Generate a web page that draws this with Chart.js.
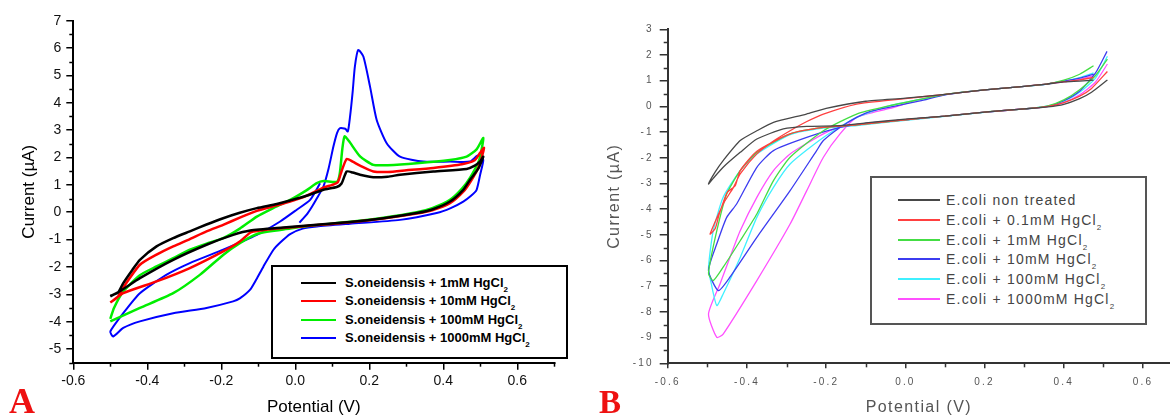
<!DOCTYPE html>
<html>
<head>
<meta charset="utf-8">
<script src="https://cdn.jsdelivr.net/npm/chart.js@4/dist/chart.umd.min.js"></script>
<style>
body { margin: 0; width: 1170px; height: 416px; background: #fff; position: relative; overflow: hidden; font-family: 'Liberation Sans', Arial, sans-serif; }
canvas { position: absolute; top: 0; }
#chartA { left: 0; }
#chartB { left: 585px; }
.legend { position: absolute; box-sizing: border-box; background: #fff; }
.legend .row { position: absolute; left: 0; height: 0; }
.legend .sw { position: absolute; height: 2px; top: -1px; }
.legend .tx { position: absolute; white-space: nowrap; line-height: 16px; top: -8px; }
.legend sub { font-size: 8px; vertical-align: -5px; line-height: 0; }
#legendA { left: 271px; top: 265px; width: 297px; height: 94px; border: 2px solid #000; }
#legendA .sw { left: 28px; width: 35px; }
#legendA .tx { left: 72px; font-weight: bold; font-size: 13px; color: #000; }
#legendB { left: 870px; top: 176px; width: 277px; height: 149px; border: 2px solid #555; }
#legendB .sw { left: 26px; width: 42px; }
#legendB .tx { left: 74px; font-size: 14px; letter-spacing: 1.2px; color: #444; }
.panel { position: absolute; font-family: 'Liberation Serif', 'Times New Roman', serif; font-weight: bold; color: #ee1111; line-height: 1; }
#tagA { left: 9px; top: 383px; font-size: 36px; }
#tagB { left: 599px; top: 386px; font-size: 33px; }
</style>
</head>
<body>
<canvas id="chartA" width="585" height="416"></canvas>
<canvas id="chartB" width="585" height="416"></canvas>
<div class="legend" id="legendA"></div>
<div class="legend" id="legendB"></div>
<div class="panel" id="tagA">A</div>
<div class="panel" id="tagB">B</div>
<script>
// ---------- Panel A : S.oneidensis ----------
const aLabels = ['S.oneidensis + 1mM HgCl2', 'S.oneidensis + 10mM HgCl2', 'S.oneidensis + 100mM HgCl2', 'S.oneidensis + 1000mM HgCl2'];
const aColors = ['#000000', '#ff0000', '#00ee00', '#0000ff'];
const aXTicks = [-0.6, -0.4, -0.2, 0, 0.2, 0.4, 0.6];
const aXTickLabels = ['-0.6', '-0.4', '-0.2', '0.0', '0.2', '0.4', '0.6'];
const aYTicks = [-5, -4, -3, -2, -1, 0, 1, 2, 3, 4, 5, 6, 7];
const aYTickLabels = ['-5', '-4', '-3', '-2', '-1', '0', '1', '2', '3', '4', '5', '6', '7'];

const a1V = [-0.5, -0.48, -0.465, -0.44, -0.42, -0.375, -0.33, -0.285, -0.24, -0.195, -0.15, -0.104, -0.05, -0.014, 0.03, 0.076, 0.112, 0.125, 0.139, 0.155, 0.175, 0.211, 0.25, 0.283, 0.373, 0.463, 0.485, 0.499, 0.508,
  0.495, 0.472, 0.454, 0.418, 0.37, 0.328, 0.238, 0.148, 0.05, -0.032, -0.122, -0.168, -0.24, -0.33, -0.42, -0.47, -0.5];
const a1I = [-3.05, -2.95, -2.59, -2.1, -1.74, -1.25, -0.95, -0.7, -0.45, -0.22, -0.02, 0.15, 0.3, 0.43, 0.6, 0.82, 0.92, 1.05, 1.49, 1.45, 1.37, 1.28, 1.3, 1.37, 1.49, 1.58, 1.7, 1.85, 2.03,
  1.6, 1.18, 0.82, 0.39, 0.1, -0.03, -0.22, -0.36, -0.47, -0.56, -0.67, -0.83, -1.19, -1.74, -2.41, -2.85, -3.08];

const a10V = [-0.5, -0.48, -0.465, -0.42, -0.375, -0.33, -0.285, -0.24, -0.195, -0.15, -0.104, -0.05, -0.014, 0.03, 0.076, 0.1, 0.115, 0.125, 0.139, 0.155, 0.175, 0.211, 0.25, 0.3, 0.373, 0.45, 0.485, 0.499, 0.51,
  0.497, 0.475, 0.454, 0.418, 0.37, 0.328, 0.238, 0.148, 0.05, -0.032, -0.1, -0.122, -0.15, -0.195, -0.285, -0.375, -0.465, -0.5];
const a10I = [-3.3, -3.1, -2.75, -1.92, -1.55, -1.25, -0.98, -0.7, -0.46, -0.2, 0.05, 0.25, 0.39, 0.6, 0.9, 1.0, 1.1, 1.5, 1.95, 1.85, 1.7, 1.49, 1.47, 1.53, 1.62, 1.75, 1.9, 2.16, 2.35,
  1.7, 1.15, 0.75, 0.33, 0.07, -0.05, -0.23, -0.37, -0.48, -0.58, -0.68, -0.75, -1.07, -1.43, -2.04, -2.53, -2.96, -3.3];

const a100V = [-0.5, -0.49, -0.465, -0.42, -0.375, -0.33, -0.285, -0.24, -0.195, -0.15, -0.104, -0.06, -0.014, 0.03, 0.058, 0.076, 0.112, 0.12, 0.127, 0.133, 0.145, 0.175, 0.211, 0.25, 0.328, 0.418, 0.463, 0.49, 0.508,
  0.497, 0.472, 0.45, 0.418, 0.37, 0.328, 0.238, 0.148, 0.05, -0.014, -0.1, -0.15, -0.195, -0.258, -0.33, -0.42, -0.5];
const a100I = [-3.9, -3.5, -2.9, -2.3, -1.98, -1.68, -1.37, -1.15, -0.95, -0.6, -0.16, 0.15, 0.45, 0.8, 1.06, 1.14, 1.11, 1.4, 2.3, 2.77, 2.6, 2.04, 1.73, 1.72, 1.79, 1.91, 2.03, 2.3, 2.71,
  1.9, 1.25, 0.85, 0.45, 0.15, 0.0, -0.2, -0.35, -0.48, -0.6, -0.78, -1.13, -1.56, -2.29, -2.96, -3.5, -3.99];

const a1000V = [0.011, 0.03, 0.045, 0.058, 0.076, 0.09, 0.103, 0.113, 0.121, 0.135, 0.142, 0.148, 0.155, 0.161, 0.17, 0.184, 0.202, 0.22, 0.247, 0.283, 0.346, 0.418, 0.472, 0.49, 0.499, 0.508,
  0.5, 0.49, 0.475, 0.454, 0.42, 0.382, 0.283, 0.148, 0.058, 0.02, -0.014, -0.04, -0.059, -0.086, -0.105, -0.122, -0.15, -0.168, -0.24, -0.33, -0.42, -0.465, -0.492, -0.5,
  -0.465, -0.42, -0.35, -0.285, -0.195, -0.104, -0.041, 0.004, 0.04, 0.067];
const a1000I = [-0.38, -0.1, 0.2, 0.5, 0.94, 1.6, 2.4, 2.9, 3.07, 3.05, 2.95, 3.5, 4.4, 5.32, 5.93, 5.69, 4.59, 3.37, 2.52, 2.03, 1.85, 1.85, 1.85, 2.05, 2.1, 1.91,
  1.4, 0.82, 0.6, 0.39, 0.15, -0.03, -0.28, -0.42, -0.52, -0.6, -0.8, -1.1, -1.37, -1.98, -2.45, -2.83, -3.15, -3.26, -3.5, -3.69, -3.99, -4.23, -4.54, -4.36,
  -3.69, -2.96, -2.3, -1.86, -1.37, -0.83, -0.34, 0.09, 0.45, 1.06];

// ---------- Panel B : E.coli ----------
const bLabels = ['E.coli non treated', 'E.coli + 0.1mM HgCl2', 'E.coli + 1mM HgCl2', 'E.coli + 10mM HgCl2', 'E.coli + 100mM HgCl2', 'E.coli + 1000mM HgCl2'];
const bColors = ['#484848', '#ff4040', '#44dd44', '#3c3cf0', '#3ff0ff', '#ff50ff'];
const bXTicks = [-0.6, -0.4, -0.2, 0, 0.2, 0.4, 0.6];
const bXTickLabels = ['-0.6', '-0.4', '-0.2', '0.0', '0.2', '0.4', '0.6'];
const bYTicks = [-10, -9, -8, -7, -6, -5, -4, -3, -2, -1, 0, 1, 2, 3];
const bYTickLabels = ['-10', '-9', '-8', '-7', '-6', '-5', '-4', '-3', '-2', '-1', '0', '1', '2', '3'];

const b0V = [0.475, 0.44, 0.4, 0.357, 0.3, 0.2, 0.1, 0.0, -0.1, -0.2, -0.25, -0.333, -0.375, -0.417, -0.46, -0.48, -0.497,
  -0.485, -0.46, -0.417, -0.375, -0.308, -0.249, -0.165, -0.1, 0.0, 0.1, 0.2, 0.3, 0.36, 0.4, 0.44, 0.47, 0.51];
const b0I = [1.02, 0.98, 0.95, 0.87, 0.78, 0.64, 0.47, 0.32, 0.2, -0.08, -0.3, -0.62, -0.95, -1.33, -2.11, -2.55, -3.02,
  -2.8, -2.37, -1.79, -1.27, -0.88, -0.78, -0.75, -0.64, -0.5, -0.38, -0.22, -0.1, -0.02, 0.08, 0.3, 0.55, 1.03];

const b01V = [0.475, 0.44, 0.4, 0.357, 0.3, 0.2, 0.1, 0.0, -0.05, -0.123, -0.207, -0.25, -0.291, -0.333, -0.375, -0.417, -0.434, -0.46, -0.493,
  -0.48, -0.47, -0.45, -0.43, -0.417, -0.375, -0.291, -0.207, -0.123, 0.0, 0.1, 0.2, 0.3, 0.36, 0.4, 0.44, 0.47, 0.51];
const b01I = [1.13, 1.03, 0.96, 0.87, 0.78, 0.64, 0.47, 0.3, 0.22, 0.09, -0.3, -0.6, -0.95, -1.35, -1.85, -2.63, -3.15, -3.8, -4.97,
  -4.75, -4.2, -3.35, -3.1, -2.5, -1.75, -1.07, -0.82, -0.72, -0.52, -0.38, -0.22, -0.1, 0.0, 0.15, 0.4, 0.7, 1.36];

const b1V = [0.475, 0.44, 0.4, 0.357, 0.3, 0.2, 0.1, 0.037, -0.039, -0.123, -0.207, -0.291, -0.333, -0.375, -0.417, -0.46, -0.485, -0.497,
  -0.476, -0.451, -0.417, -0.375, -0.291, -0.207, -0.123, 0.0, 0.1, 0.2, 0.3, 0.36, 0.4, 0.44, 0.48, 0.51];
const b1I = [1.58, 1.25, 1.02, 0.87, 0.78, 0.64, 0.47, 0.27, 0.03, -0.3, -0.95, -1.98, -2.89, -4.19, -5.23, -6.26, -6.78, -6.5,
  -4.84, -3.41, -2.5, -1.79, -1.07, -0.82, -0.72, -0.52, -0.38, -0.22, -0.1, 0.02, 0.25, 0.65, 1.2, 1.84];

const b10V = [0.475, 0.44, 0.4, 0.357, 0.3, 0.2, 0.1, 0.037, -0.081, -0.123, -0.165, -0.207, -0.224, -0.291, -0.375, -0.443, -0.472, -0.497,
  -0.476, -0.451, -0.426, -0.375, -0.333, -0.249, -0.165, -0.1, 0.0, 0.1, 0.2, 0.3, 0.36, 0.4, 0.441, 0.48, 0.509];
const b10I = [1.26, 1.1, 0.98, 0.87, 0.78, 0.64, 0.45, 0.21, -0.17, -0.43, -0.82, -1.33, -1.72, -3.28, -5.1, -6.65, -7.17, -6.39,
  -5.35, -4.32, -3.8, -2.37, -1.72, -1.21, -0.82, -0.66, -0.52, -0.38, -0.22, -0.1, 0.0, 0.22, 0.61, 1.3, 2.14];

const b100V = [0.475, 0.44, 0.4, 0.357, 0.3, 0.2, 0.1, 0.037, -0.039, -0.123, -0.207, -0.291, -0.333, -0.375, -0.417, -0.46, -0.476, -0.49, -0.497,
  -0.485, -0.46, -0.417, -0.375, -0.291, -0.207, -0.123, 0.0, 0.1, 0.2, 0.3, 0.36, 0.4, 0.44, 0.48, 0.51];
const b100I = [1.3, 1.12, 0.98, 0.87, 0.78, 0.64, 0.46, 0.27, 0.03, -0.43, -1.21, -2.24, -3.15, -4.32, -5.88, -7.3, -7.75, -6.9, -6.3,
  -4.84, -3.54, -2.5, -1.85, -1.1, -0.85, -0.75, -0.54, -0.39, -0.23, -0.1, 0.02, 0.2, 0.55, 1.1, 1.95];

const b1000V = [0.475, 0.44, 0.4, 0.357, 0.3, 0.2, 0.1, 0.037, -0.039, -0.123, -0.165, -0.207, -0.249, -0.291, -0.375, -0.46, -0.476, -0.497,
  -0.468, -0.443, -0.417, -0.375, -0.333, -0.291, -0.207, -0.165, -0.1, 0.0, 0.1, 0.2, 0.3, 0.36, 0.4, 0.44, 0.48, 0.51];
const b1000I = [1.2, 1.05, 0.95, 0.87, 0.78, 0.64, 0.46, 0.27, -0.08, -0.43, -1.07, -1.98, -3.28, -4.58, -6.78, -8.86, -8.99, -8.08,
  -6.91, -5.88, -4.84, -3.54, -2.5, -1.85, -1.07, -0.82, -0.66, -0.52, -0.38, -0.22, -0.1, 0.0, 0.15, 0.45, 0.95, 1.65];

function toPoints(v, i) {
  return v.map(function (x, k) { return { x: x, y: i[k] }; });
}

// small outward ticks between the labelled ones
const minorTicks = {
  id: 'minorTicks',
  afterDraw(chart, args, opts) {
    const ctx = chart.ctx;
    const area = chart.chartArea;
    ctx.save();
    ctx.strokeStyle = opts.color;
    ctx.lineWidth = opts.width;
    ['x', 'y'].forEach(function (id) {
      const s = chart.scales[id];
      const step = opts[id];
      for (let k = Math.ceil(s.min / step - 1e-6); k * step <= s.max + 1e-6; k++) {
        if (k % 2 === 0) continue;
        const p = Math.round(s.getPixelForValue(k * step)) + 0.5;
        ctx.beginPath();
        if (id === 'x') { ctx.moveTo(p, area.bottom); ctx.lineTo(p, area.bottom + opts.len); }
        else { ctx.moveTo(area.left, p); ctx.lineTo(area.left - opts.len, p); }
        ctx.stroke();
      }
    });
    ctx.restore();
  }
};

// letter spacing for panel B text (titles a bit tighter than tick labels)
const spacing = {
  id: 'spacing',
  beforeDraw(chart, args, opts) {
    chart.ctx.letterSpacing = opts.ticks;
    ['x', 'y'].forEach(function (id) {
      const s = chart.scales[id];
      if (s._spaced) return;
      const orig = s.drawTitle;
      s.drawTitle = function () {
        const prev = this.ctx.letterSpacing;
        this.ctx.letterSpacing = opts.title;
        orig.apply(this, arguments);
        this.ctx.letterSpacing = prev;
      };
      s._spaced = true;
    });
  }
};

function axes(o) {
  return {
    x: {
      type: 'linear', min: o.xMin, max: o.xMax,
      afterBuildTicks: function (s) { s.ticks = o.xTicks.map(function (v) { return { value: v }; }); },
      afterFit: function (s) { s.height = o.xHeight; },
      grid: { drawOnChartArea: false, tickLength: o.xTickLen, color: o.axisColor, lineWidth: 1.5 },
      border: { color: o.axisColor, width: 2 },
      ticks: { callback: function (v, i) { return o.xLabels[i]; }, color: o.tickColor, font: o.tickFont, padding: o.xPad, maxRotation: 0, autoSkip: false },
      title: { display: true, text: 'Potential (V)', color: o.titleColor, font: o.titleFont, padding: { top: 0, bottom: 0 } }
    },
    y: {
      type: 'linear', min: o.yMin, max: o.yMax,
      afterBuildTicks: function (s) { s.ticks = o.yTicks.map(function (v) { return { value: v }; }); },
      afterFit: function (s) { s.width = o.yWidth; },
      grid: { drawOnChartArea: false, tickLength: o.yTickLen, color: o.axisColor, lineWidth: 1.5 },
      border: { color: o.axisColor, width: 2 },
      ticks: { callback: function (v, i) { return o.yLabels[i]; }, color: o.tickColor, font: o.tickFont, padding: o.yPad, autoSkip: false },
      title: { display: true, text: 'Current (µA)', color: o.titleColor, font: o.titleFont, padding: { top: o.yTitlePad, bottom: 0 } }
    }
  };
}

function lineSet(label, v, i, color, width) {
  return { label: label, data: toPoints(v, i), borderColor: color, backgroundColor: color, borderWidth: width, showLine: true, pointRadius: 0, tension: 0.2, fill: false };
}

Chart.defaults.font.family = "'Liberation Sans', Arial, sans-serif";

new Chart(document.getElementById('chartA'), {
  type: 'scatter',
  data: {
    datasets: [
      lineSet(aLabels[0], a1V, a1I, aColors[0], 2.5),
      lineSet(aLabels[1], a10V, a10I, aColors[1], 2.5),
      lineSet(aLabels[2], a100V, a100I, aColors[2], 2.5),
      lineSet(aLabels[3], a1000V, a1000I, aColors[3], 2)
    ]
  },
  options: {
    responsive: false, animation: false, devicePixelRatio: 1, events: [],
    layout: { padding: { top: 20.7, right: 30.7, bottom: 0, left: 0 } },
    scales: axes({
      xMin: -0.6, xMax: 0.7, yMin: -5.5, yMax: 7,
      xTicks: aXTicks, xLabels: aXTickLabels, yTicks: aYTicks, yLabels: aYTickLabels,
      xHeight: 53.3, yWidth: 73.3, xTickLen: 7, yTickLen: 7, xPad: 3, yPad: 5, yTitlePad: 21,
      axisColor: '#000', tickColor: '#111', titleColor: '#000',
      tickFont: { size: 14 }, titleFont: { size: 17, lineHeight: 1 }
    }),
    plugins: {
      legend: { display: false }, tooltip: { enabled: false },
      minorTicks: { x: 0.1, y: 0.5, len: 4, color: '#000', width: 1.5 }
    }
  },
  plugins: [minorTicks]
});

new Chart(document.getElementById('chartB'), {
  type: 'scatter',
  data: {
    datasets: [
      lineSet(bLabels[0], b0V, b0I, bColors[0], 1.3),
      lineSet(bLabels[1], b01V, b01I, bColors[1], 1.3),
      lineSet(bLabels[2], b1V, b1I, bColors[2], 1.3),
      lineSet(bLabels[3], b10V, b10I, bColors[3], 1.3),
      lineSet(bLabels[4], b100V, b100I, bColors[4], 1.3),
      lineSet(bLabels[5], b1000V, b1000I, bColors[5], 1.3)
    ]
  },
  options: {
    responsive: false, animation: false, devicePixelRatio: 1, events: [],
    layout: { padding: { top: 29.3, right: 0, bottom: 0, left: 0 } },
    scales: axes({
      xMin: -0.6, xMax: 0.668, yMin: -10, yMax: 3,
      xTicks: bXTicks, xLabels: bXTickLabels, yTicks: bYTicks, yLabels: bYTickLabels,
      xHeight: 52.7, yWidth: 82.7, xTickLen: 5, yTickLen: 8, xPad: 8, yPad: 6, yTitlePad: 22,
      axisColor: '#333', tickColor: '#555', titleColor: '#555',
      tickFont: { size: 10 }, titleFont: { size: 16, lineHeight: 1 }
    }),
    plugins: {
      legend: { display: false }, tooltip: { enabled: false },
      minorTicks: { x: 0.1, y: 0.5, len: 4, color: '#333', width: 1.5 },
      spacing: { ticks: '2.2px', title: '1.4px' }
    }
  },
  plugins: [minorTicks, spacing]
});

// boxed legends with subscripted HgCl2
function buildLegend(id, labels, colors, top, gap) {
  const box = document.getElementById(id);
  labels.forEach(function (label, k) {
    const row = document.createElement('div');
    row.className = 'row';
    row.style.top = (top + k * gap) + 'px';
    row.innerHTML = '<div class="sw" style="background:' + colors[k] + '"></div>' +
      '<div class="tx">' + label.replace('HgCl2', 'HgCl<sub>2</sub>') + '</div>';
    box.appendChild(row);
  });
}
buildLegend('legendA', aLabels, aColors, 16, 18.4);
buildLegend('legendB', bLabels, bColors, 22, 19.8);
</script>
</body>
</html>
